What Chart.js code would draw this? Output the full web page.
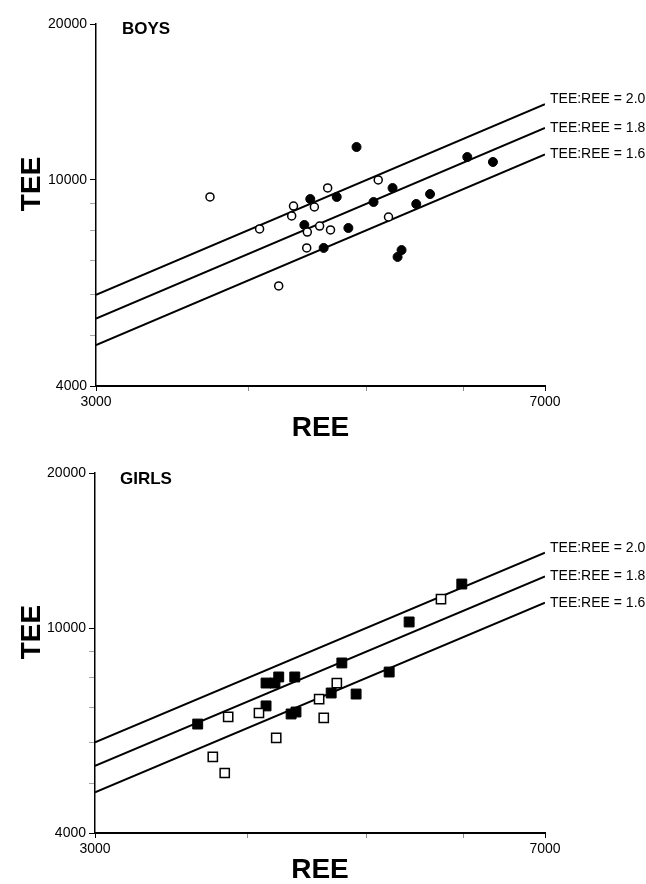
<!DOCTYPE html>
<html><head><meta charset="utf-8">
<script src="https://cdn.jsdelivr.net/npm/chart.js@4/dist/chart.umd.min.js"></script>
<style>
html,body{margin:0;padding:0;background:#fff;}
#wrap{width:646px;height:884px;position:relative;background:#fff;}
canvas{display:block;}
</style></head><body>
<div id="wrap"><canvas id="boys" width="646" height="442"></canvas><canvas id="girls" width="646" height="442"></canvas></div>
<script>
// ---- data ----
const reeRange = [3000, 7000];
const teeRange = [4000, 20000];
const xTickValues = [3000, 4000, 5000, 6000, 7000];
const xTickLabels = [3000, 7000];
const yTickValues = [4000, 5000, 6000, 7000, 8000, 9000, 10000, 20000];
const yTickLabels = [4000, 10000, 20000];
const ratios = [2.0, 1.8, 1.6];
const ratioLabels = ['TEE:REE = 2.0', 'TEE:REE = 1.8', 'TEE:REE = 1.6'];

const boysOpenREE = [3720, 4085, 4235, 4355, 4340, 4645, 4530, 4470, 4575, 4670, 4465, 5110, 5210];
const boysOpenTEE = [9270, 8040, 6240, 8900, 8520, 9650, 8865, 7930, 8145, 8005, 7390, 10000, 8480];
const boysFilledREE = [4905, 4495, 4725, 4445, 4830, 4610, 5250, 5065, 5490, 5635, 6045, 6345, 5340, 5300];
const boysFilledTEE = [11575, 9185, 9270, 8185, 8075, 7390, 9645, 9065, 8985, 9390, 11070, 10830, 7320, 7100];

const girlsFilledREE = [3640, 4140, 4210, 4240, 4370, 4140, 4340, 4380, 4680, 4775, 4905, 5220, 5420, 5985];
const girlsFilledTEE = [6510, 7820, 7820, 8035, 8035, 7060, 6810, 6870, 7480, 8555, 7445, 8215, 10275, 12175];
const girlsOpenREE = [3855, 4085, 4220, 3745, 3830, 4575, 4615, 4730, 5755];
const girlsOpenTEE = [6720, 6840, 6120, 5620, 5230, 7280, 6690, 7820, 11385];

const yTitle = 'TEE';
const xTitle = 'REE';

// ---- drawing ----
const FAM = '"Liberation Sans", Arial, Helvetica, sans-serif';
Chart.defaults.font.family = FAM;
Chart.defaults.color = '#000';

const zip = (xs, ys) => xs.map((x, i) => ({x: x, y: ys[i]}));
const labelDy = [-5, 0, 0];

const annot = {
  id: 'annot',
  afterDatasetsDraw(chart, args, opts) {
    const ctx = chart.ctx;
    ctx.save();
    ctx.fillStyle = '#000';
    ctx.font = '14px ' + FAM;
    ctx.textBaseline = 'middle';
    ctx.textAlign = 'left';
    chart.data.datasets.forEach((ds, i) => {
      if (ds.ratioLabel === undefined) return;
      const meta = chart.getDatasetMeta(i);
      const pt = meta.data[meta.data.length - 1];
      ctx.fillText(ds.ratioLabel, pt.x + 5, pt.y + ds.labelDy);
    });
    ctx.font = 'bold 17px ' + FAM;
    ctx.fillText(opts.panel, chart.chartArea.left + opts.panelDx, chart.chartArea.top + opts.panelDy);
    // y axis title, centred near the 10000 level as in the original
    const ys = chart.scales.y;
    ctx.font = 'bold 28px ' + FAM;
    ctx.textAlign = 'center';
    ctx.translate(32, ys.getPixelForValue(10000) + 4);
    ctx.rotate(-Math.PI / 2);
    ctx.fillText(yTitle, 0, 0);
    ctx.restore();
  }
};

function makePanel(id, panel, pointSets, top, bottom, leftW, panelDx, panelDy) {
  const datasets = [];
  pointSets.forEach(p => datasets.push({
    data: zip(p.x, p.y),
    showLine: false,
    pointStyle: p.style,
    pointRadius: p.radius,
    pointBackgroundColor: p.fill,
    pointBorderColor: '#000',
    pointBorderWidth: p.bw
  }));
  ratios.forEach((r, i) => datasets.push({
    data: reeRange.map(x => ({x: x, y: r * x})),
    showLine: true,
    pointRadius: 0,
    borderColor: '#000',
    borderWidth: 2,
    ratioLabel: ratioLabels[i],
    labelDy: labelDy[i]
  }));
  return new Chart(document.getElementById(id), {
    type: 'scatter',
    data: {datasets: datasets},
    plugins: [annot],
    options: {
      responsive: false,
      animation: false,
      devicePixelRatio: 1,
      layout: {padding: {top: top, right: 646 - 545, bottom: 0, left: 0}},
      plugins: {legend: {display: false}, tooltip: {enabled: false}, annot: {panel: panel, panelDx: panelDx, panelDy: panelDy}},
      scales: {
        x: {
          type: 'logarithmic', min: reeRange[0], max: reeRange[1],
          afterBuildTicks: s => { s.ticks = xTickValues.map(v => ({value: v})); },
          afterFit: s => { s.height = 442 - bottom; },
          ticks: {autoSkip: false, maxRotation: 0, padding: 3, color: '#000', font: {size: 14},
            callback: v => xTickLabels.includes(v) ? String(v) : ''},
          grid: {drawOnChartArea: false, drawTicks: true, tickLength: 5, tickWidth: 1,
            tickColor: c => (c.tick && xTickLabels.includes(c.tick.value)) ? '#000' : 'rgba(0,0,0,0.45)'},
          border: {display: true, color: '#000', width: 2},
          title: {display: true, text: xTitle, color: '#000', font: {size: 28, weight: 'bold', lineHeight: 1}, padding: 0}
        },
        y: {
          type: 'logarithmic', min: teeRange[0], max: teeRange[1],
          afterBuildTicks: s => { s.ticks = yTickValues.map(v => ({value: v})); },
          afterFit: s => { s.width = leftW; },
          ticks: {autoSkip: false, padding: 3, color: '#000', font: {size: 14},
            callback: v => yTickLabels.includes(v) ? String(v) : ''},
          grid: {drawOnChartArea: false, drawTicks: true, tickLength: 6, tickWidth: 1,
            tickColor: c => (c.tick && yTickLabels.includes(c.tick.value)) ? '#000' : 'rgba(0,0,0,0.35)'},
          border: {display: true, color: '#000', width: 1.5},
          title: {display: false, text: yTitle}
        }
      }
    }
  });
}

makePanel('boys', 'BOYS', [
  {x: boysOpenREE, y: boysOpenTEE, style: 'circle', radius: 4, fill: '#fff', bw: 1.5},
  {x: boysFilledREE, y: boysFilledTEE, style: 'circle', radius: 4.5, fill: '#000', bw: 1}
], 24, 386, 96, 26, 5);

makePanel('girls', 'GIRLS', [
  {x: girlsOpenREE, y: girlsOpenTEE, style: 'rect', radius: 6.5, fill: '#fff', bw: 1.5},
  {x: girlsFilledREE, y: girlsFilledTEE, style: 'rect', radius: 7, fill: '#000', bw: 1}
], 31, 391, 95, 25, 6);
</script>
</body></html>
